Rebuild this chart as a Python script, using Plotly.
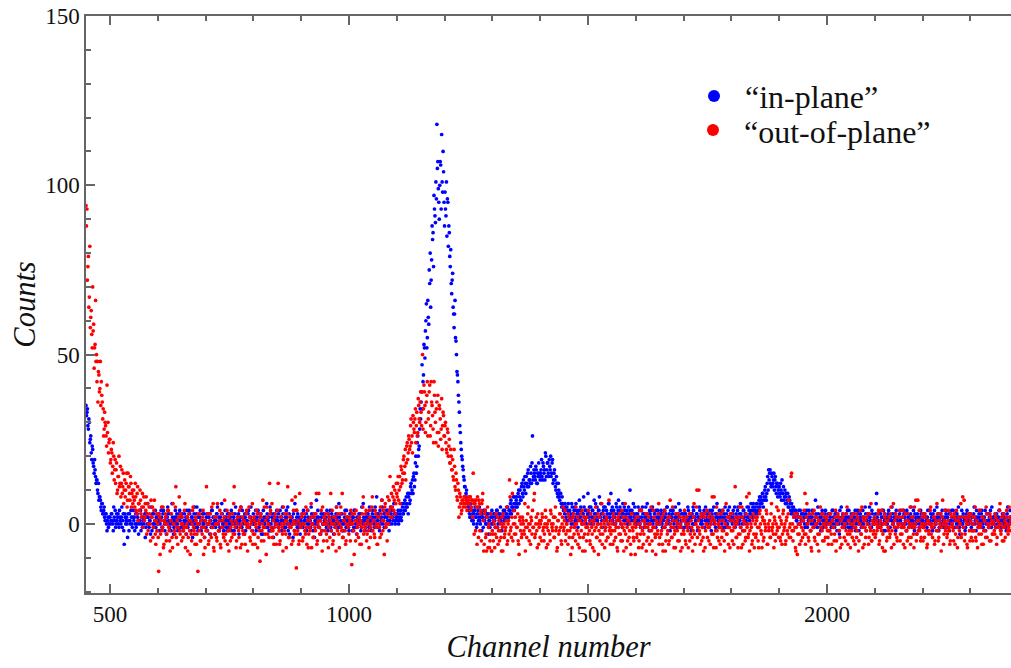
import plotly.graph_objects as go

# Channel numbers: even and odd channels of the spectrum
channel_even = list(range(450, 2386, 2))
channel_odd = list(range(451, 2386, 2))

# "in-plane" counts on even channels
in_plane_even = [
    35, 33, 29, 31, 24, 26, 19, 22, 17, 19, 14, 13, 10, 12, 8, 7, 4, 6, 3, 5, 1, 3, -2, 2, 0,
    2, 1, 3, 0, 5, 1, -1, 3, 2, 0, 4, 1, 2, -1, 3, -6, 2, 1, 0, 3, -2, 1, 4, 0, 2,
    1, -2, 3, 0, 2, -3, 1, 4, 0, -1, 2, 1, -4, 3, 0, 2, -1, 1, 5, -2, 0, 3, 1, -1, 2,
    0, 3, -2, 1, 2, -1, 4, 0, 1, -3, 2, 3, 0, 1, -2, 6, 1, -1, 2, 0, 3, -2, 1, 4, -1,
    2, 0, -1, 3, 1, -3, 2, 0, 4, 1, -2, 2, 0, 3, -1, 1, 5, -2, 0, 2, 1, -1, 3, 0, -4,
    1, 2, -2, 0, 3, 1, -1, 4, 2, 0, -3, 1, 3, 0, 2, -1, 1, 6, 0, -2, 2, 1, -1, 3, 0,
    -1, 2, 4, 0, 1, -2, 3, 1, 0, 2, -3, 1, 5, -1, 0, 2, 3, -2, 1, 0, 4, -1, 2, 1, -2,
    3, 0, 1, -2, 2, 4, -1, 0, 3, 1, -3, 2, 0, 1, 6, -1, 2, 0, -2, 3, 1, -4, 2, 0, 1,
    2, -1, 0, 4, 1, -2, 3, 0, 1, -1, 2, 5, 0, -3, 1, 2, 0, 3, -2, 1, 4, -1, 0, 2, -3,
    1, 3, -1, 0, 2, 1, -2, 4, 0, 1, -1, 3, 2, 0, -4, 1, 7, 0, 2, -1, 1, 3, -2, 0, 2,
    0, 1, 4, -2, 2, 0, -1, 3, 1, -3, 2, 0, 5, 1, -1, 2, 0, 3, -2, 1, 0, 4, -1, 2, 1,
    -2, 3, 0, 1, 2, -1, 4, 0, -3, 1, 2, 0, 3, -1, 1, 6, 0, -2, 2, 1, 3, -1, 0, 2, 1,
    4, 0, -1, 2, 8, 1, 3, -2, 0, 2, 5, 1, -1, 3, 0, 2, 4, -2, 1, 3, 0, 2, 6, 1, 3,
    1, 3, 0, 2, 4, 1, 5, 3, 6, 4, 8, 5, 3, 9, 7, 12, 10, 9, 15, 13, 20, 17, 26, 22, 28,
    31, 39, 34, 44, 52, 57, 65, 55, 61, 75, 80, 72, 88, 86, 97, 91, 101, 118, 107, 95, 100, 106, 115, 98, 104,
    88, 93, 101, 96, 82, 86, 76, 71, 72, 64, 58, 66, 54, 45, 42, 36, 29, 24, 20, 17, 14, 11, 8, 10, 6,
    5, 3, 6, 2, 4, 1, 3, 5, 2, 0, 4, 2, 1, 3, -2, 2, 4, 1, 0, 3, 2, -3, 1, 3, 0,
    2, 1, 3, -1, 2, 4, 0, 2, 3, 1, -2, 3, 2, 4, 1, 3, 5, 2, 4, 6, 3, 5, 8, 4, 6,
    7, 5, 9, 6, 10, 7, 12, 8, 11, 14, 9, 12, 15, 11, 13, 17, 12, 26, 14, 15, 13, 16, 12, 14, 15,
    13, 16, 14, 18, 15, 13, 20, 16, 18, 14, 17, 20, 15, 19, 13, 16, 11, 14, 9, 12, 8, 9, 6, 8, 5,
    4, 6, 2, 5, 3, 1, 4, 2, 6, 3, 0, 5, 2, 4, 1, 3, 7, 2, 4, 0, 3, 5, 1, 4, 2,
    9, 3, 1, 5, 2, 4, 0, 3, 6, 2, 1, 4, 8, 2, 3, -1, 4, 2, 5, 1, 3, 0, 6, 2, 9,
    3, 1, 4, 2, 0, 5, 3, 7, 1, 4, 2, -1, 3, 5, 2, 1, 4, 0, 3, 10, 2, 4, 1, 3, 5,
    2, 0, 3, 1, 4, -1, 2, 5, 1, 3, 0, 2, 6, 1, -2, 3, 2, 4, 0, 1, 3, -1, 2, 4, 1,
    0, 2, 3, -1, 1, 4, 2, 0, 5, 1, 3, -2, 2, 1, 4, 0, 2, 3, -1, 1, 6, 2, 0, 3, 1,
    2, -1, 3, 1, 0, 4, 2, 1, -2, 3, 5, 0, 2, 1, 3, -1, 2, 4, 0, 1, 3, 2, -1, 5, 1,
    0, 3, 1, 2, -2, 4, 1, 0, 3, 2, 6, 1, -1, 2, 3, 0, 4, 1, 2, -1, 3, 0, 2, 5, 1,
    2, 0, 4, 1, -1, 3, 2, 5, 0, 1, 3, 2, -2, 4, 1, 3, 0, 2, 5, 1, 3, 4, 2, 6, 3,
    5, 3, 6, 4, 7, 5, 8, 6, 9, 7, 10, 8, 9, 14, 16, 15, 12, 15, 11, 13, 10, 14, 9, 12, 10,
    11, 8, 10, 13, 9, 7, 10, 8, 6, 9, 5, 7, 4, 6, 3, 5, 2, 4, 1, 3, 0, 2, 4, 1, 3,
    1, 2, -1, 3, 0, 2, 4, 1, -2, 2, 3, 0, 1, 7, 2, -1, 3, 1, 0, 2, 4, -1, 1, 3, 0,
    2, 1, -2, 3, 0, 1, 4, 2, -1, 0, 3, 1, 2, -3, 1, 5, 0, 2, 1, -1, 3, 0, 2, 4, 1,
    -1, 2, 0, 3, 1, -2, 2, 4, 0, 1, 3, -1, 2, 0, 1, 5, -2, 1, 3, 0, 2, -1, 4, 1, 0,
    2, 3, 9, 0, 1, -1, 3, 2, 0, 4, 1, -2, 2, 0, 3, 1, -1, 2, 5, 0, 1, 3, -2, 1, 2,
    0, 3, 1, -1, 2, 4, 0, 1, -2, 3, 2, 0, 1, 5, -1, 2, 0, 3, 1, -3, 2, 1, 0, 4, 1,
    2, -1, 3, 0, 1, 2, -2, 4, 1, 0, 2, 3, -1, 1, 0, 5, 2, -2, 1, 3, 0, 2, -1, 1, 4,
    0, 2, 1, -2, 3, 1, 0, 4, 2, -1, 1, 3, 0, 2, -3, 1, 4, 0, 2, 1, -1, 3, 0, 2, 1,
    3, -1, 0, 2, 5, 1, -2, 2, 0, 3, 1, -1, 4, 0, 2, 1, -2, 3, 1, 0, 2, 4, -1, 1, 2,
    0, 3, -1, 2, 1, 4, 0, -2, 2, 1, 3, 0, -1, 2, 5, 1, 0, 2,
]

# "in-plane" counts on odd channels
in_plane_odd = [
    32, 34, 28, 30, 25, 21, 23, 18, 15, 16, 12, 13, 9, 7, 8, 5, 6, 3, 4, 2, 3, 0, 1, -1, 2,
    0, 3, 1, -2, 2, 4, 0, 1, 3, -1, 2, 0, 5, 1, -2, 3, 0, 2, -4, 1, 3, 0, 2, -1, 4,
    2, 0, -1, 3, 1, 0, 4, -2, 2, 1, 0, 3, -1, 2, 6, 0, 1, -3, 2, 3, -1, 0, 4, 2, -2,
    1, 2, 0, 4, -1, 3, 1, -2, 2, 0, 5, 1, -1, 3, 0, 2, -3, 1, 4, 2, 0, -1, 3, 1, 2,
    3, -2, 1, 0, 2, 4, -1, 1, 3, 0, 2, -4, 1, 5, 0, 3, -1, 2, 0, 4, -2, 1, 0, 3, 1,
    -1, 3, 0, 2, -3, 1, 4, 0, 2, 1, -1, 3, 5, 0, -2, 2, 1, 3, -1, 0, 4, 2, -2, 1, 3,
    1, 0, -2, 3, 2, 0, 5, -1, 1, 3, 0, 2, -1, 4, 1, -3, 2, 0, 1, 3, -1, 2, 5, 0, 1,
    0, 2, 4, -1, 1, 3, 0, 2, -3, 1, 4, 0, 2, -1, 3, 1, -2, 5, 0, 2, -1, 3, 1, 0, 4,
    1, 3, -2, 0, 2, 5, 1, -1, 2, 4, 0, -2, 3, 1, 0, 2, -4, 1, 6, 0, 2, 3, -1, 1, 0,
    2, 0, 4, 1, -2, 3, 0, 2, -1, 1, 5, 0, -2, 3, 1, 0, 2, 4, -1, 1, -3, 2, 0, 3, 1,
    2, -1, 0, 3, 1, 4, -2, 2, 0, 1, -1, 3, 2, 0, 6, -1, 1, 3, 0, -2, 2, 1, 4, 0, -1,
    1, 0, 3, -2, 2, 4, 1, -1, 2, 0, 3, 1, -2, 5, 0, 2, 1, -1, 3, 0, 2, 5, 1, -2, 3,
    2, 1, 5, 0, 3, -1, 2, 4, 1, 7, 0, 3, 2, -1, 4, 1, 3, 0, 5, 2, 4, 1, 3, 0, 2,
    2, 4, 1, 3, 2, 6, 3, 4, 7, 5, 6, 9, 8, 6, 11, 9, 13, 14, 11, 18, 15, 24, 20, 23, 34,
    36, 47, 42, 53, 49, 60, 52, 66, 59, 71, 64, 78, 84, 76, 93, 89, 96, 105, 99, 90, 107, 93, 101, 110, 95,
    98, 91, 85, 95, 88, 79, 81, 68, 74, 62, 62, 55, 50, 44, 38, 33, 27, 22, 19, 16, 13, 11, 9, 7, 6,
    4, 2, 5, 1, 3, 0, 4, 2, -1, 3, 1, 5, 0, 2, 3, -1, 1, 4, 2, 0, 3, 1, -1, 2, 4,
    0, 3, 1, 2, 4, -1, 3, 1, 5, 2, 0, 4, 1, 3, 2, 5, 2, 4, 3, 7, 5, 4, 6, 8, 5,
    8, 6, 10, 8, 7, 11, 9, 13, 10, 12, 14, 11, 16, 13, 12, 15, 18, 13, 16, 14, 17, 12, 15, 18, 14,
    15, 19, 13, 17, 16, 21, 14, 18, 15, 19, 16, 14, 18, 12, 15, 13, 10, 12, 8, 10, 7, 9, 5, 6, 4,
    3, 5, 1, 4, 6, 2, 3, 0, 5, 2, 4, 1, 6, 3, -1, 4, 2, 5, 1, 3, 8, 2, 4, 0, 3,
    2, 5, 3, 0, 4, 2, 7, 1, 3, 5, 0, 4, 2, 6, 1, 3, 5, 2, -1, 4, 2, 6, 3, 1, 4,
    5, 2, 0, 3, 6, 1, 4, 2, 5, 0, 3, 6, 1, 4, 2, 3, 0, 5, 2, 4, 1, 3, 6, 2, 0,
    3, 1, 5, 2, 0, 4, 1, 3, -1, 2, 5, 1, 3, 0, 4, 2, 1, 5, -1, 3, 1, 4, 0, 2, 3,
    1, 4, 0, 3, 2, -1, 3, 5, 1, 2, 0, 4, 2, 3, -1, 1, 5, 2, 0, 3, 2, 4, 1, -1, 3,
    1, 3, 0, 2, 5, 1, -1, 3, 2, 0, 4, 2, 1, 3, -2, 2, 5, 1, 3, 0, 2, 4, 1, 3, 2,
    2, 1, 4, 0, 3, 2, 5, 1, -1, 3, 2, 0, 4, 1, 3, 2, -1, 3, 5, 1, 0, 4, 2, 1, 3,
    1, 3, 2, 5, 0, 2, 4, 1, 3, 6, 2, 0, 4, 2, 3, 1, 5, 2, 4, 3, 6, 2, 5, 4, 3,
    4, 6, 3, 5, 8, 6, 7, 9, 5, 8, 11, 7, 12, 10, 13, 16, 11, 14, 12, 15, 13, 11, 12, 8, 11,
    9, 12, 7, 9, 11, 8, 6, 9, 7, 5, 8, 6, 3, 5, 4, 2, 4, 3, 1, 2, 4, 0, 2, 3, 1,
    3, 0, 2, 4, -1, 1, 3, 2, 0, 4, 1, -1, 2, 3, 0, 5, 1, 2, -2, 3, 1, 0, 2, 4, 1,
    0, 3, 1, 2, -1, 4, 0, 2, 3, 1, -2, 2, 0, 4, 1, 2, 3, -1, 0, 2, 1, 4, -1, 2, 0,
    3, 1, -1, 2, 4, 0, 1, 3, -2, 2, 1, 0, 4, 2, -1, 3, 1, 0, 2, 5, 1, -1, 3, 0, 2,
    1, 6, 2, -1, 3, 1, 0, 4, 2, -2, 3, 1, 0, 2, 4, -1, 2, 1, 3, 0, 2, -1, 4, 1, 0,
    2, 1, 4, 0, -1, 3, 2, 0, 4, 1, -1, 2, 3, 0, 1, 4, -2, 2, 0, 3, 1, -1, 2, 3, 0,
    1, 3, 0, 2, -1, 4, 1, 0, 3, 2, -2, 1, 4, 0, 2, 1, 3, -1, 2, 0, 4, 1, 0, 2, 3,
    2, -1, 3, 0, 1, 4, 2, -1, 1, 3, 0, 2, 5, -1, 1, 2, 0, 3, 1, -2, 2, 4, 1, 0, 3,
    1, 2, -2, 3, 0, 2, 4, 1, -1, 2, 0, 3, 1, -1, 2, 4, 0, 1, 3, -1, 1, 2, 5, 0, 2,
    1, -1, 3, 0, 2, 4, 1, -1, 3, 0, 2, 1, -2, 3, 0, 1, 4, 2,
]

# "out-of-plane" counts on even channels
out_of_plane_even = [
    94, 93, 76, 64, 82, 61, 56, 70, 59, 52, 66, 50, 48, 45, 39, 48, 42, 36, 34, 28, 30, 26, 41, 30, 24,
    25, 19, 21, 17, 20, 16, 12, 18, 10, 14, 11, 17, 12, 9, 15, 10, 8, 12, 5, 15, 11, 7, 12, 9, 6,
    10, 5, 8, 3, 11, 6, 4, 7, 2, 9, 5, 1, 6, 8, 3, -2, 5, 0, 7, 2, -4, 4, 1, -6, 3,
    0, -14, 2, -3, 5, -1, -7, 1, 3, -5, 0, 4, -2, -8, 1, -4, 6, 0, -3, 11, -1, -6, 2, -2, 3,
    -5, 0, -2, 4, -7, -1, 2, -4, 1, -9, -3, 0, 5, -2, -6, 1, -3, -14, 0, 3, -5, -1, 2, -9, -4,
    1, 11, -2, -6, 0, 3, -4, -1, 6, -8, -3, 2, -5, 0, -2, 4, -7, -1, 1, -4, 7, -3, 0, -6, 2,
    -2, -5, 1, 3, -3, 11, -1, -7, 0, 2, -4, -1, 5, -6, -2, 1, -3, 0, 4, -8, -1, 2, -5, 0, 6,
    -3, 1, -6, -1, 3, -4, 0, -11, 2, -2, 7, -5, -1, 1, 5, -3, 0, 12, 4, -2, -4, 1, -1, 3, -6,
    0, 12, -2, -5, 2, -1, -8, 0, 3, -3, 1, 11, -4, -1, 2, -6, 0, 4, -2, 8, -13, -3, 1, -5, 0,
    -1, 3, -4, 0, -2, 5, -6, 1, -3, -1, 2, -7, 0, -4, 3, -2, 9, -5, 1, -1, -3, 4, -8, 0, 2,
    -2, 1, -5, 3, -1, -4, 9, 0, -6, 2, -3, -1, 5, -2, 0, -7, 3, -1, 9, -4, 1, -2, -5, 2, 0,
    -3, 1, 4, -12, 0, -2, 3, -5, 1, -1, -4, 2, 0, -6, 3, 8, -2, -1, 4, -3, 0, -7, 2, -1, 5,
    -2, 1, -4, 3, 0, -6, 2, -1, 5, -3, 1, 4, -9, 6, 0, -5, 3, 7, 14, 5, 2, 8, 4, 10, 6,
    9, 12, 7, 14, 11, 16, 13, 19, 15, 22, 18, 24, 21, 25, 23, 31, 26, 32, 28, 31, 24, 33, 27, 35, 30,
    39, 29, 50, 34, 39, 27, 36, 42, 31, 39, 26, 42, 35, 28, 42, 33, 24, 36, 38, 27, 34, 25, 37, 29, 32,
    26, 30, 22, 28, 20, 25, 18, 20, 16, 14, 22, 11, 15, 8, 12, 2, 9, 6, 4, 7, 6, 8, 5, 7, 6,
    7, 6, 8, 5, 7, 15, -3, 6, 7, -6, 5, 7, -2, 4, 6, 9, -8, 3, -4, -8, 5, -1, -7, -3, -8,
    -2, -5, 0, -3, 3, -1, -6, 1, -2, -4, 2, -8, 0, -3, -1, 5, -5, 1, 13, -2, -4, 9, 0, -3, 2,
    12, -1, -5, -9, 2, 0, -3, 1, -2, 6, -1, -4, 3, 0, -2, -6, 1, 4, -1, 9, -3, 2, -7, 0, -1,
    -4, 1, 3, -2, -5, 0, 2, -1, -6, 1, -3, 4, 0, -2, 2, -4, 5, -1, -7, 1, -2, 3, -5, 0, 5,
    -1, 4, -3, 0, -6, 2, -2, -9, 1, -4, 3, -1, -5, 0, 2, -3, -7, 1, -2, 4, -4, 0, -8, -1, 2,
    -3, 0, -5, 3, -1, -7, 1, -2, 5, -4, 0, -9, 2, -3, -1, -6, 3, 0, -2, -5, 1, -4, 7, -1, -3,
    0, -6, 2, -2, -4, 1, -8, -1, 3, -3, 0, -5, 2, -2, 6, -7, -1, 1, -4, 0, -9, 3, -2, -5, 1,
    -1, -4, 2, -7, 0, -3, 4, -2, -6, 1, -1, -8, 3, -4, 0, -2, 5, -5, -1, 2, -3, -9, 0, -2, 6,
    -4, 1, -2, -6, 3, -1, -8, 0, -3, 2, -5, 7, -1, -4, 1, -7, -2, 3, 0, -5, -1, 2, -8, -3, 1,
    -2, 4, -5, 0, -1, -7, 3, -3, 1, -4, -2, 6, -6, 0, 10, -1, 10, -3, 2, -5, -1, -8, 3, -2, 0,
    -4, 2, -1, -6, 1, 8, -3, 8, 0, -7, -2, 3, -5, 1, -1, -4, 4, -2, -8, 0, -3, 2, -6, -1, 3,
    -2, -5, 1, -1, 11, -4, 0, -7, 2, -3, -1, 5, -6, 1, -2, -4, 8, 0, -3, -8, 2, -1, -5, 3, -7,
    0, -3, 2, -5, -1, 4, -2, -7, 1, -4, 0, -1, 3, -6, -2, 1, -4, 6, -1, -3, 2, -5, 0, -2, 4,
    -1, -4, 1, -6, 3, -2, 0, -5, 2, -3, 7, -1, -4, 15, 0, -2, 3, -7, -1, -9, 2, -3, 0, -5, 1,
    -2, 4, 9, -3, 6, 0, -5, 1, -2, -8, 3, -1, -4, 2, 0, -6, 1, -3, 5, -1, -2, 3, -5, 0, -1,
    2, -4, 0, -2, 3, -6, 1, -1, -3, 4, -5, 0, 2, -2, -7, 1, -1, 3, -4, 0, -2, 5, -6, 1, -3,
    0, -2, 3, -5, 1, -1, -4, 2, -8, 0, 4, -3, -1, 2, -6, 1, -2, 0, 3, -4, -1, 6, -5, 0, -2,
    2, -3, 0, -1, 4, -5, 1, -2, -7, 0, 3, -8, 1, -4, -1, 2, -3, 5, -2, 0, -6, 1, 3, -4, -1,
    0, 4, -3, -1, 2, -6, 0, 3, -2, -5, 1, -1, 5, -4, 0, 2, -7, -1, 7, -3, 7, 1, -2, -5, 0,
    3, -1, -4, 2, 0, -6, 1, -2, 4, -3, 0, -1, 2, -5, 1, 6, -2, -4, 0, 3, -1, 7, -6, 1, -2,
    0, -3, 4, -1, -5, 2, 0, -2, 3, -6, 1, -1, -4, 2, 0, 6, -3, 8, -1, -5, 2, 0, -7, 3, -2,
    1, -4, 0, 2, -2, 5, -5, 1, -1, -3, 4, 0, -6, 2, -2, 1, -4, 3, 0, -1, -5, 2, 0, -3, 1,
    -2, 3, -1, -4, 1, 0, 6, -3, 2, -1, -5, 1, 0, 4, -2, -1, 2, 0,
]

# "out-of-plane" counts on odd channels
out_of_plane_odd = [
    88, 72, 79, 67, 58, 63, 52, 57, 46, 53, 48, 42, 36, 44, 40, 35, 38, 31, 26, 33, 29, 23, 27, 21, 25,
    18, 22, 15, 24, 13, 19, 16, 9, 14, 20, 12, 8, 16, 11, 6, 13, 10, 15, 7, 11, 9, 14, 5, 10, 8,
    7, 12, 4, 9, 1, 6, 10, 3, 5, -1, 8, 2, 4, -3, 6, 0, 3, -5, 2, 5, -1, 7, -3, 1, -2,
    -4, 3, -9, 1, -2, 5, -6, 0, 2, -3, 4, -1, -5, 1, 3, -7, 0, -2, 5, -4, 1, -1, 8, -3, 0,
    2, -4, -1, 6, -3, 0, -8, 3, -2, 1, -5, 4, -1, -3, 2, -6, 0, 3, -2, -5, 1, -3, 4, -1, -7,
    -2, 0, 3, -5, 1, -3, 5, -1, -7, 2, 0, -4, 6, -2, 1, -6, 3, -1, -3, 2, -5, 0, 4, -2, -8,
    3, -1, -4, 0, 6, -3, 1, -5, 2, -2, 4, -7, 0, 2, -3, 1, -6, 3, -1, 0, 5, -4, 1, -2, -6,
    2, -3, 0, 4, -7, 1, -2, 3, -5, 0, -1, 5, -3, -9, 2, 0, -4, 3, -1, 6, -2, -6, 2, 0, -3,
    4, -1, -6, 2, 0, -3, 5, -2, 1, -7, 3, 0, -4, 2, -1, 7, -5, 1, -3, 0, 4, -2, -6, 9, -1,
    2, -5, 0, 3, -3, -1, 4, -7, 1, -2, 6, 0, -4, 2, -1, 3, -6, 0, 9, -3, 1, -2, 5, -5, 0,
    3, -3, 0, -7, 2, 1, -2, 4, -5, 0, 2, -8, 1, 3, -3, 0, 5, -2, -4, 1, 3, -6, 0, 2, -1,
    2, -5, 0, 3, -2, -9, 1, 4, -3, 0, 2, -6, 1, -1, 5, -3, 0, 3, -5, 1, -2, 4, -4, 0, 8,
    1, -3, 4, -1, -6, 2, 0, -4, 3, 7, -2, 1, 5, -1, 3, 8, 0, 4, 2, 9, 5, 11, 7, 3, 12,
    8, 14, 10, 6, 17, 12, 15, 20, 17, 13, 23, 19, 26, 22, 29, 24, 21, 30, 27, 34, 29, 26, 37, 31, 36,
    33, 39, 28, 41, 35, 30, 38, 26, 33, 41, 29, 36, 32, 24, 38, 30, 34, 27, 23, 35, 31, 28, 22, 33, 26,
    29, 24, 21, 27, 23, 18, 22, 16, 19, 13, 17, 10, 13, 7, 10, 5, 8, 3, 7, 5, 8, 6, 7, 4, 8,
    6, 8, 4, 7, 2, 6, 7, -2, 5, 8, -4, 6, 3, -5, 7, 1, -6, 4, -3, 2, -7, 0, -5, 3, -8,
    -3, 1, -7, -1, -4, 2, -2, -5, 0, -8, -1, 3, -4, -2, 1, -6, 0, -3, 8, -1, 2, -5, 4, 0, -3,
    -1, 3, -6, 1, -2, -4, 2, 0, -3, -8, 1, -1, 5, -5, 0, 2, -3, -1, 7, -4, 0, -2, 3, -6, 1,
    0, -5, 2, -1, -3, 4, -7, 0, -2, 1, -5, 3, -1, 0, -4, 2, -2, -8, 1, -3, 3, -1, -6, 2, -2,
    1, -5, 0, -2, 3, -4, 1, -1, -7, 2, -3, 0, 5, -2, -6, 1, -4, 3, 0, -8, 2, -3, 1, -5, -1,
    4, -2, -6, 1, -3, 0, -8, 2, -1, -4, 3, -2, -5, 0, 6, -3, 1, -7, -1, 2, -4, 0, -2, -6, 1,
    -2, 3, -5, 0, -1, -7, 2, -3, 1, -5, 4, -1, -8, 0, -3, 2, -5, 1, -2, -6, 3, -1, -4, 0, -9,
    2, -3, 0, -5, 4, -1, -7, 1, -3, 0, 3, -5, -1, 2, -6, 0, -2, -8, 4, -1, -4, 1, -3, 3, -6,
    0, -3, 2, -8, -1, 4, -5, 1, -2, -6, 2, 0, -4, 5, -1, -3, -7, 1, -2, 3, -5, 0, -1, -7, 2,
    -3, 1, -6, 2, -2, 0, -5, 3, -1, -8, 2, -3, 0, 5, -4, 1, -2, -6, 3, -1, -4, 2, -7, 0, 4,
    -1, -5, 3, 0, -3, 2, -7, 1, -2, 5, -4, 0, -1, -6, 3, -2, 1, -5, 0, 6, -3, -1, 2, -7, 1,
    3, -2, -6, 0, 2, -4, 1, -3, 5, -1, -7, 2, -2, 0, -5, 3, -1, -4, 9, -2, 0, -6, 1, -3, 2,
    -4, 1, -1, -7, 3, 0, -3, 2, -5, 1, -2, 4, -6, 0, -1, -4, 3, -2, 0, -7, 1, -3, 5, -1, -4,
    2, -5, 0, -3, 4, -1, -6, 1, -2, 3, -4, 0, 14, -2, -5, 2, -1, -8, 3, -3, 0, -6, 2, -1, -4,
    1, -3, -6, 2, 0, -4, 3, -2, -7, 1, -1, 4, -5, 0, 2, -3, -8, 1, -1, 3, -5, 0, 2, -4, 1,
    -2, -6, 3, 0, -3, 1, -1, -5, 2, -8, 0, 3, -2, -4, 1, -6, 2, -1, 0, -5, 3, -3, 1, -2, -7,
    2, -4, 0, -1, -6, 3, -2, 1, -5, 0, -3, 5, -7, 1, -1, -4, 2, 0, -6, 3, -2, -5, 1, -3, 0,
    -4, 1, -2, 3, -6, 0, -1, 4, -3, -8, 2, 0, -5, 1, -2, -4, 3, -7, 0, 6, -1, -3, 2, -5, 0,
    2, -5, 0, -3, 4, -1, -7, 1, -2, 3, -4, 0, -6, 2, -1, -3, 5, 0, -5, 1, -2, 4, -1, -4, 2,
    -5, 0, 3, -2, -7, 1, -3, 0, 5, -1, -4, 2, -6, 0, -2, 3, -5, 1, -1, -8, 2, 0, -3, 4, -1,
    -4, 1, -2, -6, 3, 0, -1, -5, 2, -3, 4, -7, 1, -2, 0, -4, 2, -1, 7, -3, 1, -6, 0, 2, -5,
    3, -2, -5, 0, 2, -4, 1, -7, 0, 4, -1, -3, 2, -6, 1, -2, 5, -4, 0, -1, 3, -5, 1, -3, 0,
    -3, 2, -6, 1, -1, 4, -2, 0, -5, 3, -1, -4, 2, 0, -3, 5, -2, 1,
]

for name, values, xs in (
    ("in_plane_even", in_plane_even, channel_even),
    ("in_plane_odd", in_plane_odd, channel_odd),
    ("out_of_plane_even", out_of_plane_even, channel_even),
    ("out_of_plane_odd", out_of_plane_odd, channel_odd),
):
    assert len(values) == len(xs), (name, len(values), len(xs))

channel = channel_even + channel_odd
in_plane = in_plane_even + in_plane_odd
out_of_plane = out_of_plane_even + out_of_plane_odd

SERIF = "Liberation Serif"
AXIS_GREY = "#666666"
TEXT = "#111111"
DOT = 3.7

fig = go.Figure()
fig.add_trace(go.Scatter(
    x=channel, y=in_plane, mode="markers", name="\u201cin-plane\u201d",
    marker=dict(color="#0000ff", size=DOT, line=dict(width=0)),
    legend="legend",
))
fig.add_trace(go.Scatter(
    x=channel, y=out_of_plane, mode="markers", name="\u201cout-of-plane\u201d",
    marker=dict(color="#ff0000", size=DOT, line=dict(width=0)),
    legend="legend2",
))

legend_style = dict(
    xanchor="left", yanchor="middle",
    font=dict(family=SERIF, size=32, color=TEXT),
    itemsizing="constant", itemwidth=52,
    bgcolor="rgba(0,0,0,0)", borderwidth=0,
)

fig.update_layout(
    width=1011, height=668,
    margin=dict(l=86, r=0, t=16, b=75),
    plot_bgcolor="white", paper_bgcolor="white",
    font=dict(family=SERIF, color=TEXT),
    showlegend=True,
    legend=dict(x=0.6454, y=0.861, **legend_style),
    legend2=dict(x=0.6443, y=0.802, **legend_style),
)

fig.update_xaxes(
    range=[450, 2385],
    tickmode="linear", tick0=0, dtick=500,
    ticks="inside", ticklen=9, tickwidth=1.5, tickcolor=AXIS_GREY,
    minor=dict(dtick=100, tick0=0, ticks="inside", ticklen=5, tickwidth=1.5,
               tickcolor=AXIS_GREY, showgrid=False),
    showline=True, linecolor=AXIS_GREY, linewidth=1.5, mirror="ticks",
    showgrid=False, zeroline=False, automargin=False,
    tickfont=dict(family=SERIF, size=23, color=TEXT),
    title=dict(text="<i>Channel number</i>", font=dict(family=SERIF, size=30.5, color=TEXT),
               standoff=9),
)
fig.update_yaxes(
    range=[-20.4, 150],
    tickmode="linear", tick0=0, dtick=50,
    ticks="inside", ticklen=9, tickwidth=1.5, tickcolor=AXIS_GREY,
    minor=dict(dtick=10, tick0=0, ticks="inside", ticklen=5, tickwidth=1.5,
               tickcolor=AXIS_GREY, showgrid=False),
    showline=True, linecolor=AXIS_GREY, linewidth=1.5, mirror=False,
    showgrid=False, zeroline=False, automargin=False,
    tickfont=dict(family=SERIF, size=23, color=TEXT),
    title=dict(text="<i>Counts</i>", font=dict(family=SERIF, size=30.5, color=TEXT),
               standoff=0),
)

fig.write_html("out.html")
